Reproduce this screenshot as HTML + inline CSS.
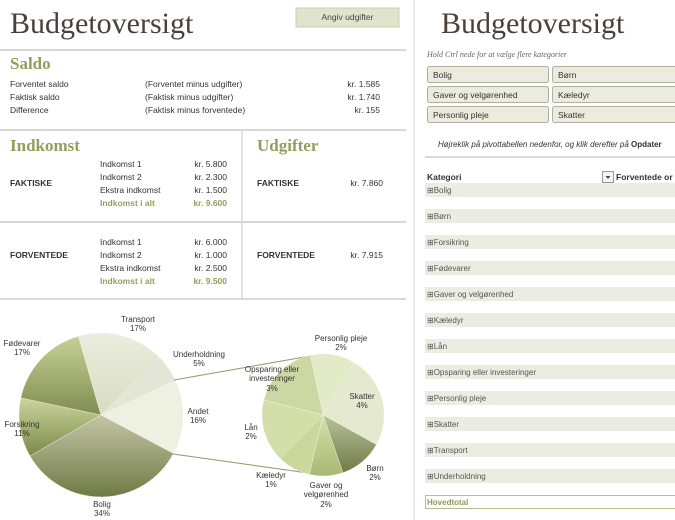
<!DOCTYPE html>
<html><head><meta charset="utf-8"><style>
html,body{margin:0;padding:0;background:#fff;}
svg{display:block;font-family:"Liberation Sans",sans-serif;}
.s{font-family:"Liberation Serif","DejaVu Serif",serif;}
</style></head><body>
<svg width="675" height="520" viewBox="0 0 675 520" xmlns="http://www.w3.org/2000/svg">
<defs>
<linearGradient id="gB" x1="0" y1="0" x2="0" y2="1"><stop offset="0" stop-color="#c3c6a6"/><stop offset="1" stop-color="#6f7a45"/></linearGradient>
<linearGradient id="gF" x1="0" y1="0" x2="0" y2="1"><stop offset="0" stop-color="#cbd49e"/><stop offset="1" stop-color="#7c8948"/></linearGradient>
<linearGradient id="gD" x1="0" y1="0" x2="0" y2="1"><stop offset="0" stop-color="#c5d196"/><stop offset="1" stop-color="#818d50"/></linearGradient>
<linearGradient id="gT" x1="0" y1="0" x2="0" y2="1"><stop offset="0" stop-color="#ebeddf"/><stop offset="1" stop-color="#d8dcc2"/></linearGradient>
<linearGradient id="gBn" x1="0" y1="0" x2="0" y2="1"><stop offset="0" stop-color="#b9c29a"/><stop offset="1" stop-color="#6f7c48"/></linearGradient>
<linearGradient id="gG" x1="0" y1="0" x2="0" y2="1"><stop offset="0" stop-color="#d6e0a8"/><stop offset="1" stop-color="#a9b872"/></linearGradient>
</defs>
<text x="10" y="33" class="s" font-size="30" fill="#4a4038">Budgetoversigt</text>
<rect x="296" y="8" width="103" height="19" fill="#dfe5cc" stroke="#c8cfb0"/>
<text x="347.5" y="20" font-size="8.5" fill="#444" text-anchor="middle">Angiv udgifter</text>
<line x1="0" y1="50" x2="406" y2="50" stroke="#d8d8d8" stroke-width="2"/>
<text x="10" y="69" class="s" font-size="17" font-weight="bold" fill="#939e5e">Saldo</text>
<g font-size="8.5" fill="#333">
<text x="10" y="87">Forventet saldo</text><text x="145" y="87">(Forventet minus udgifter)</text><text x="380" y="87" text-anchor="end">kr. 1.585</text>
<text x="10" y="100">Faktisk saldo</text><text x="145" y="100">(Faktisk minus udgifter)</text><text x="380" y="100" text-anchor="end">kr. 1.740</text>
<text x="10" y="113">Difference</text><text x="145" y="113">(Faktisk minus forventede)</text><text x="380" y="113" text-anchor="end">kr. 155</text>
</g>
<line x1="0" y1="130" x2="406" y2="130" stroke="#d8d8d8" stroke-width="2"/>
<line x1="242" y1="130" x2="242" y2="299" stroke="#d8d8d8" stroke-width="1.5"/>
<text x="10" y="151" class="s" font-size="17" font-weight="bold" fill="#939e5e">Indkomst</text>
<text x="257" y="151" class="s" font-size="17" font-weight="bold" fill="#939e5e">Udgifter</text>
<g font-size="8.5" fill="#333">
<text x="10" y="186" font-weight="bold">FAKTISKE</text>
<text x="100" y="167">Indkomst 1</text><text x="227" y="167" text-anchor="end">kr. 5.800</text>
<text x="100" y="180">Indkomst 2</text><text x="227" y="180" text-anchor="end">kr. 2.300</text>
<text x="100" y="193">Ekstra indkomst</text><text x="227" y="193" text-anchor="end">kr. 1.500</text>
<text x="100" y="206" fill="#939e5e" font-weight="bold">Indkomst i alt</text><text x="227" y="206" text-anchor="end" fill="#939e5e" font-weight="bold">kr. 9.600</text>
<text x="257" y="186" font-weight="bold">FAKTISKE</text><text x="383" y="186" text-anchor="end">kr. 7.860</text>
<text x="10" y="258" font-weight="bold">FORVENTEDE</text>
<text x="100" y="245">Indkomst 1</text><text x="227" y="245" text-anchor="end">kr. 6.000</text>
<text x="100" y="258">Indkomst 2</text><text x="227" y="258" text-anchor="end">kr. 1.000</text>
<text x="100" y="271">Ekstra indkomst</text><text x="227" y="271" text-anchor="end">kr. 2.500</text>
<text x="100" y="284" fill="#939e5e" font-weight="bold">Indkomst i alt</text><text x="227" y="284" text-anchor="end" fill="#939e5e" font-weight="bold">kr. 9.500</text>
<text x="257" y="258" font-weight="bold">FORVENTEDE</text><text x="383" y="258" text-anchor="end">kr. 7.915</text>
</g>
<line x1="0" y1="222" x2="406" y2="222" stroke="#d8d8d8" stroke-width="2"/>
<line x1="0" y1="299" x2="406" y2="299" stroke="#d8d8d8" stroke-width="2"/>
<line x1="414" y1="0" x2="414" y2="520" stroke="#e2e2e2" stroke-width="1.5"/>
<g stroke="#f4f4ec" stroke-width="0.4">
<path d="M101,415 L175.3,380.3 A82,82 0 0 1 173.4,453.5 Z" fill="#eef0e2"/>
<path d="M101,415 L173.4,453.5 A82,82 0 0 1 30.0,456.0 Z" fill="url(#gB)"/>
<path d="M101,415 L30.0,456.0 A82,82 0 0 1 20.8,397.9 Z" fill="url(#gF)"/>
<path d="M101,415 L20.8,397.9 A82,82 0 0 1 78.4,336.2 Z" fill="url(#gD)"/>
<path d="M101,415 L78.4,336.2 A82,82 0 0 1 160.0,358.0 Z" fill="url(#gT)"/>
<path d="M101,415 L160.0,358.0 A82,82 0 0 1 175.3,380.3 Z" fill="#e3e5d6"/>
</g>
<line x1="174" y1="380" x2="310" y2="356" stroke="#8f9868" stroke-width="1"/>
<line x1="173" y1="454" x2="308" y2="473" stroke="#8f9868" stroke-width="1"/>
<g stroke="#f4f4ec" stroke-width="0.4">
<path d="M323,415 L310.3,355.3 A61,61 0 0 1 354.4,362.7 Z" fill="#e3eac6"/>
<path d="M323,415 L354.4,362.7 A61,61 0 0 1 376.4,444.6 Z" fill="#e4e9cf"/>
<path d="M323,415 L376.4,444.6 A61,61 0 0 1 342.9,472.7 Z" fill="url(#gBn)"/>
<path d="M323,415 L342.9,472.7 A61,61 0 0 1 309.3,474.4 Z" fill="url(#gG)"/>
<path d="M323,415 L309.3,474.4 A61,61 0 0 1 279.9,458.1 Z" fill="#cbd89c"/>
<path d="M323,415 L279.9,458.1 A61,61 0 0 1 263.8,400.2 Z" fill="#d3dfa8"/>
<path d="M323,415 L263.8,400.2 A61,61 0 0 1 310.3,355.3 Z" fill="#cdd7a3"/>
</g>
<g font-size="8" fill="#333" text-anchor="middle">
<text x="138" y="322">Transport</text><text x="138" y="331">17%</text>
<text x="22" y="346">Fødevarer</text><text x="22" y="355">17%</text>
<text x="199" y="357">Underholdning</text><text x="199" y="366">5%</text>
<text x="198" y="414">Andet</text><text x="198" y="423">16%</text>
<text x="22" y="427">Forsikring</text><text x="22" y="436">11%</text>
<text x="102" y="507">Bolig</text><text x="102" y="516">34%</text>
<text x="341" y="341">Personlig pleje</text><text x="341" y="350">2%</text>
<text x="272" y="372">Opsparing eller</text><text x="272" y="381">investeringer</text><text x="272" y="391">3%</text>
<text x="362" y="399">Skatter</text><text x="362" y="408">4%</text>
<text x="251" y="430">Lån</text><text x="251" y="439">2%</text>
<text x="375" y="471">Børn</text><text x="375" y="480">2%</text>
<text x="271" y="478">Kæledyr</text><text x="271" y="487">1%</text>
<text x="326" y="488">Gaver og</text><text x="326" y="497">velgørenhed</text><text x="326" y="507">2%</text>
</g>
<text x="441" y="33" class="s" font-size="30" fill="#4a4038">Budgetoversigt</text>
<text x="427" y="57" class="s" font-size="8" font-style="italic" fill="#666">Hold Ctrl nede for at vælge flere kategorier</text>
<g fill="#ebebde" stroke="#b0b0a0">
<rect x="427.5" y="66.5" width="121" height="16" rx="2"/><rect x="552.5" y="66.5" width="124" height="16" rx="2"/>
<rect x="427.5" y="86.5" width="121" height="16" rx="2"/><rect x="552.5" y="86.5" width="124" height="16" rx="2"/>
<rect x="427.5" y="106.5" width="121" height="16" rx="2"/><rect x="552.5" y="106.5" width="124" height="16" rx="2"/>
</g>
<g font-size="8.5" fill="#333">
<text x="433" y="78">Bolig</text><text x="558" y="78">Børn</text>
<text x="433" y="98">Gaver og velgørenhed</text><text x="558" y="98">Kæledyr</text>
<text x="433" y="118">Personlig pleje</text><text x="558" y="118">Skatter</text>
</g>
<text x="438" y="147" font-size="8" font-style="italic" fill="#333">Højreklik på pivottabellen nedenfor, og klik derefter på <tspan font-weight="bold" font-style="normal">Opdater</tspan></text>
<line x1="425" y1="157" x2="675" y2="157" stroke="#d8d8d8" stroke-width="2"/>
<text x="427" y="180" font-size="8.5" font-weight="bold" fill="#333">Kategori</text>
<rect x="602.5" y="171.5" width="11" height="11" fill="#f4f4f4" stroke="#999"/>
<path d="M605.5,176 L610.5,176 L608,179 Z" fill="#444"/>
<text x="616" y="180" font-size="8.5" font-weight="bold" fill="#333">Forventede or</text>
<g fill="#ecede2">
<rect x="425" y="183" width="250" height="14"/><rect x="425" y="209" width="250" height="14"/>
<rect x="425" y="235" width="250" height="14"/><rect x="425" y="261" width="250" height="14"/>
<rect x="425" y="287" width="250" height="14"/><rect x="425" y="313" width="250" height="14"/>
<rect x="425" y="339" width="250" height="14"/><rect x="425" y="365" width="250" height="14"/>
<rect x="425" y="391" width="250" height="14"/><rect x="425" y="417" width="250" height="14"/>
<rect x="425" y="443" width="250" height="14"/><rect x="425" y="469" width="250" height="14"/>
</g>
<g font-size="8" fill="#555">
<text x="427" y="193">⊞Bolig</text><text x="427" y="219">⊞Børn</text>
<text x="427" y="245">⊞Forsikring</text><text x="427" y="271">⊞Fødevarer</text>
<text x="427" y="297">⊞Gaver og velgørenhed</text><text x="427" y="323">⊞Kæledyr</text>
<text x="427" y="349">⊞Lån</text><text x="427" y="375">⊞Opsparing eller investeringer</text>
<text x="427" y="401">⊞Personlig pleje</text><text x="427" y="427">⊞Skatter</text>
<text x="427" y="453">⊞Transport</text><text x="427" y="479">⊞Underholdning</text>
</g>
<rect x="425.5" y="495.5" width="251" height="13" fill="#fff" stroke="#b8c090"/>
<text x="427" y="505" font-size="8" font-weight="bold" fill="#8f9a5a">Hovedtotal</text>
</svg>
</body></html>
